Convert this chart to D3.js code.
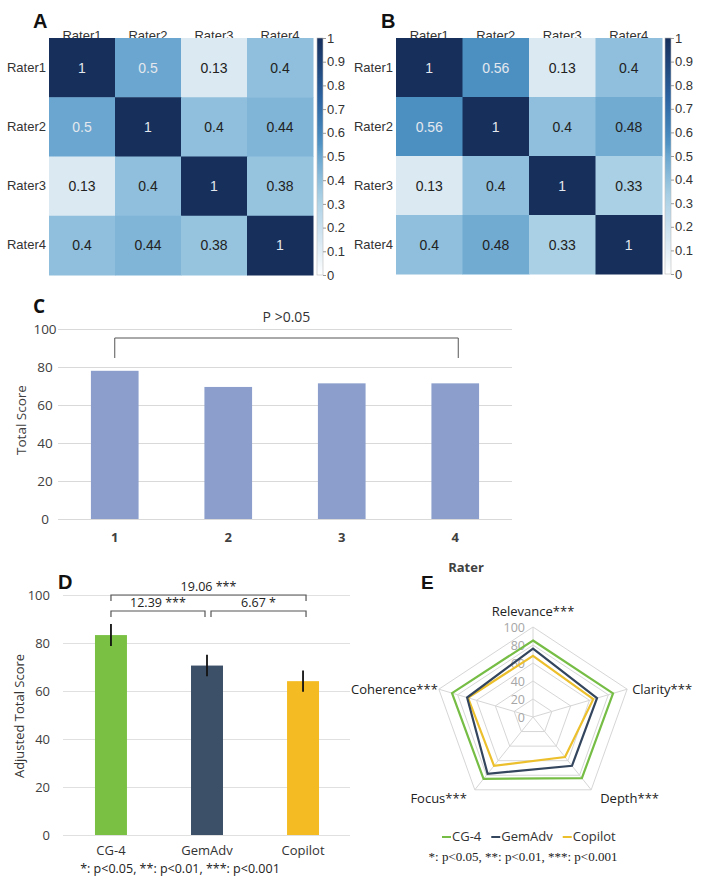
<!DOCTYPE html>
<html>
<head>
<meta charset="utf-8">
<script src="https://cdnjs.cloudflare.com/ajax/libs/d3/7.8.5/d3.min.js"></script>
<style>
  body { margin: 0; background: #fff; }
  svg { display: block; }
</style>
</head>
<body>
<div id="chart"></div>
<script>
// ---- data ----
const raters = ['Rater1', 'Rater2', 'Rater3', 'Rater4'];
const corrA = [
  [1, 0.5, 0.13, 0.4],
  [0.5, 1, 0.4, 0.44],
  [0.13, 0.4, 1, 0.38],
  [0.4, 0.44, 0.38, 1]
];
const corrB = [
  [1, 0.56, 0.13, 0.4],
  [0.56, 1, 0.4, 0.48],
  [0.13, 0.4, 1, 0.33],
  [0.4, 0.48, 0.33, 1]
];

const raterIds = ['1', '2', '3', '4'];
const totalScores = [78, 69.5, 71.4, 71.4];

const models = ['CG-4', 'GemAdv', 'Copilot'];
const adjScores = [83.3, 70.6, 64.1];
const adjErr = [4.6, 4.5, 4.4];
const comparisons = [
  { from: 0, to: 2, label: '19.06 ***', level: 1 },
  { from: 0, to: 1, label: '12.39 ***', level: 0 },
  { from: 1, to: 2, label: '6.67 *', level: 0 }
];

const dims = ['Relevance***', 'Clarity***', 'Depth***', 'Focus***', 'Coherence***'];
const radarCG4 = [85, 85, 84, 85, 86];
const radarGem = [76, 68, 67, 78, 70];
const radarCop = [68, 64, 55, 67, 69];
const radarTicks = [0, 20, 40, 60, 80, 100];

const modelColors = ['#7ac143', '#3c5068', '#f4bb22'];
const lineColors = ['#76bd45', '#34465e', '#ecbf2c'];

const W = 703, H = 882;
const svg = d3.select('#chart').append('svg')
  .attr('width', W)
  .attr('height', H);
svg.append('rect').attr('width', W).attr('height', H).attr('fill', '#fff');

const heatColor = d3.scaleLinear()
  .domain([0, 0.13, 0.33, 0.5, 0.56, 0.75, 1])
  .range(['#ffffff', '#dbe9f3', '#a9d0e5', '#6aa6cf', '#4c90c2', '#2b62a0', '#172f5b'])
  .clamp(true);

function panelLetter(x, y, t, family, size) {
  svg.append('text')
    .attr('x', x).attr('y', y)
    .attr('font-family', family)
    .attr('font-size', size)
    .attr('font-weight', 'bold')
    .attr('fill', '#111')
    .text(t);
}

// ---- heatmaps A and B ----
function drawHeatmap(data, x0, x1, y0, y1, cbX, id) {
  const g = svg.append('g');
  const x = d3.scaleBand().domain(raters).range([x0, x1]);
  const y = d3.scaleBand().domain(raters).range([y0, y1]);

  // column labels (partly hidden under the cells, as in the original)
  g.selectAll('.col').data(raters).enter().append('text')
    .attr('x', d => x(d) + x.bandwidth() / 2)
    .attr('y', y0 + 2)
    .attr('text-anchor', 'middle')
    .attr('font-family', 'Liberation Sans, Arial')
    .attr('font-size', 13)
    .attr('fill', '#333')
    .text(d => d);

  g.selectAll('.row').data(raters).enter().append('text')
    .attr('x', x0 - 3)
    .attr('y', d => y(d) + y.bandwidth() / 2 + 4)
    .attr('text-anchor', 'end')
    .attr('font-family', 'Liberation Sans, Arial')
    .attr('font-size', 13)
    .attr('fill', '#333')
    .text(d => d);

  const cells = [];
  data.forEach((row, i) => row.forEach((v, j) => cells.push({ r: raters[i], c: raters[j], v })));

  g.selectAll('.cell').data(cells).enter().append('rect')
    .attr('x', d => x(d.c))
    .attr('y', d => y(d.r))
    .attr('width', x.bandwidth() + 0.5)
    .attr('height', y.bandwidth() + 0.5)
    .attr('fill', d => heatColor(d.v));

  g.selectAll('.val').data(cells).enter().append('text')
    .attr('x', d => x(d.c) + x.bandwidth() / 2)
    .attr('y', d => y(d.r) + y.bandwidth() / 2 + 5)
    .attr('text-anchor', 'middle')
    .attr('font-family', 'Liberation Sans, Arial')
    .attr('font-size', 14)
    .attr('fill', d => d.v >= 0.5 ? '#e4e8ee' : '#222')
    .text(d => d.v);

  // colorbar
  const grad = svg.append('defs').append('linearGradient')
    .attr('id', 'grad' + id)
    .attr('x1', 0).attr('y1', 1).attr('x2', 0).attr('y2', 0);
  d3.range(0, 1.001, 0.05).forEach(t => {
    grad.append('stop').attr('offset', t).attr('stop-color', heatColor(t));
  });
  g.append('rect')
    .attr('x', cbX).attr('y', y0)
    .attr('width', 6).attr('height', y1 - y0)
    .attr('fill', `url(#grad${id})`)
    .attr('stroke', '#bbb')
    .attr('stroke-width', 0.6);

  const cs = d3.scaleLinear().domain([0, 1]).range([y1, y0]);
  const ax = g.append('g')
    .attr('transform', `translate(${cbX + 6},0)`)
    .call(d3.axisRight(cs).ticks(10).tickSize(3).tickFormat(d3.format('~g')));
  ax.select('.domain').remove();
  ax.selectAll('line').attr('stroke', '#999');
  ax.selectAll('text')
    .attr('font-family', 'Liberation Sans, Arial')
    .attr('font-size', 13)
    .attr('fill', '#333')
    .attr('x', 4);
}

drawHeatmap(corrA, 49, 313, 38, 275, 317, 'A');
drawHeatmap(corrB, 396, 662, 38, 274, 665, 'B');
panelLetter(33, 28, 'A', 'Liberation Sans, Arial', 20);
panelLetter(381, 28, 'B', 'Liberation Sans, Arial', 20);

// ---- panel C ----
const font2 = 'Open Sans, Noto Sans, sans-serif';
{
  const x = d3.scaleBand().domain(raterIds).range([58, 512]).paddingInner(0.58).paddingOuter(0.29);
  const y = d3.scaleLinear().domain([0, 100]).range([519, 329]);
  const g = svg.append('g');

  const grid = g.append('g')
    .attr('transform', 'translate(58,0)')
    .call(d3.axisLeft(y).ticks(5).tickSize(-454).tickFormat(''));
  grid.select('.domain').remove();
  grid.selectAll('line').attr('stroke', '#d9d9d9');

  g.selectAll('.ytick').data(y.ticks(5)).enter().append('text')
    .attr('x', 45).attr('y', d => y(d) + 5)
    .attr('text-anchor', 'middle')
    .attr('font-family', font2).attr('font-size', 13.5)
    .attr('fill', '#404040')
    .text(d => d);

  g.selectAll('.bar').data(totalScores).enter().append('rect')
    .attr('x', (d, i) => x(raterIds[i]))
    .attr('y', d => y(d))
    .attr('width', x.bandwidth())
    .attr('height', d => y(0) - y(d))
    .attr('fill', '#8c9fcc');

  g.selectAll('.xtick').data(raterIds).enter().append('text')
    .attr('x', d => x(d) + x.bandwidth() / 2)
    .attr('y', 542)
    .attr('text-anchor', 'middle')
    .attr('font-family', font2).attr('font-size', 13).attr('font-weight', 'bold')
    .attr('fill', '#404040')
    .text(d => d);

  g.append('text')
    .attr('x', 466).attr('y', 572)
    .attr('text-anchor', 'middle')
    .attr('font-family', font2).attr('font-size', 13).attr('font-weight', 'bold')
    .attr('fill', '#404040')
    .text('Rater');

  g.append('text')
    .attr('transform', 'translate(26,420) rotate(-90)')
    .attr('text-anchor', 'middle')
    .attr('font-family', font2).attr('font-size', 13.5)
    .attr('fill', '#404040')
    .text('Total Score');

  // bracket
  const bx1 = x(raterIds[0]) + x.bandwidth() / 2;
  const bx2 = x(raterIds[3]) + x.bandwidth() / 2 + 3;
  g.append('path')
    .attr('d', `M${bx1},358V338H${bx2}V358`)
    .attr('fill', 'none').attr('stroke', '#555').attr('stroke-width', 1);
  g.append('text')
    .attr('x', (bx1 + bx2) / 2).attr('y', 322)
    .attr('text-anchor', 'middle')
    .attr('font-family', font2).attr('font-size', 14)
    .attr('fill', '#333')
    .text('P >0.05');

  panelLetter(33, 313, 'C', font2, 19);
}

// ---- panel D ----
{
  const x = d3.scaleBand().domain(models).range([63, 351]).paddingInner(0.667).paddingOuter(0.333);
  const y = d3.scaleLinear().domain([0, 100]).range([835, 595]);
  const g = svg.append('g');

  const grid = g.append('g')
    .attr('transform', 'translate(63,0)')
    .call(d3.axisLeft(y).ticks(5).tickSize(-287).tickFormat(''));
  grid.select('.domain').remove();
  grid.selectAll('line').attr('stroke', '#e0e0e0');

  g.selectAll('.ytick').data(y.ticks(5)).enter().append('text')
    .attr('x', 50).attr('y', d => y(d) + 5)
    .attr('text-anchor', 'end')
    .attr('font-family', font2).attr('font-size', 13)
    .attr('fill', '#404040')
    .text(d => d);

  g.selectAll('.bar').data(adjScores).enter().append('rect')
    .attr('x', (d, i) => x(models[i]))
    .attr('y', d => y(d))
    .attr('width', x.bandwidth())
    .attr('height', d => y(0) - y(d))
    .attr('fill', (d, i) => modelColors[i]);

  g.selectAll('.err').data(adjScores).enter().append('line')
    .attr('x1', (d, i) => x(models[i]) + x.bandwidth() / 2)
    .attr('x2', (d, i) => x(models[i]) + x.bandwidth() / 2)
    .attr('y1', (d, i) => y(d + adjErr[i]))
    .attr('y2', (d, i) => y(d - adjErr[i]))
    .attr('stroke', '#111').attr('stroke-width', 1.8);

  g.selectAll('.xtick').data(models).enter().append('text')
    .attr('x', d => x(d) + x.bandwidth() / 2)
    .attr('y', 855)
    .attr('text-anchor', 'middle')
    .attr('font-family', font2).attr('font-size', 13)
    .attr('fill', '#333')
    .text(d => d);

  g.append('text')
    .attr('x', 180).attr('y', 873)
    .attr('text-anchor', 'middle')
    .attr('font-family', font2).attr('font-size', 12.5)
    .attr('fill', '#222')
    .text('*: p<0.05, **: p<0.01, ***: p<0.001');

  g.append('text')
    .attr('transform', 'translate(24,716) rotate(-90)')
    .attr('text-anchor', 'middle')
    .attr('font-family', font2).attr('font-size', 13)
    .attr('fill', '#333')
    .text('Adjusted Total Score');

  // significance brackets
  const cxOf = i => x(models[i]) + x.bandwidth() / 2;
  comparisons.forEach(c => {
    const top = c.level === 1 ? 595 : 611;
    let a = cxOf(c.from), b = cxOf(c.to);
    if (c.level === 0 && c.from === 0) b -= 2;
    if (c.level === 0 && c.from === 1) a += 4;
    if (c.to === 2) b += 3;
    g.append('path')
      .attr('d', `M${a},${top + 6}V${top}H${b}V${top + 6}`)
      .attr('fill', 'none').attr('stroke', '#555').attr('stroke-width', 1.2);
    g.append('text')
      .attr('x', (a + b) / 2).attr('y', top - 4)
      .attr('text-anchor', 'middle')
      .attr('font-family', font2).attr('font-size', 12.5)
      .attr('fill', '#222')
      .text(c.label);
  });

  panelLetter(58, 589, 'D', 'Liberation Sans, Arial', 20);
}

// ---- panel E radar ----
{
  const cx = 533, cy = 717, rx = 99, ry = 90;
  const r = d3.scaleLinear().domain([0, 100]).range([0, 1]);
  const ang = i => i * 2 * Math.PI / dims.length;
  const pt = (v, i) => [cx + rx * r(v) * Math.sin(ang(i)), cy - ry * r(v) * Math.cos(ang(i))];
  const line = d3.line().curve(d3.curveLinearClosed);
  const g = svg.append('g');

  radarTicks.filter(t => t > 0).forEach(t => {
    g.append('path')
      .attr('d', line(dims.map((d, i) => pt(t, i))))
      .attr('fill', 'none').attr('stroke', '#d6d6d6').attr('stroke-width', 1);
  });
  dims.forEach((d, i) => {
    const p = pt(100, i);
    g.append('line')
      .attr('x1', cx).attr('y1', cy).attr('x2', p[0]).attr('y2', p[1])
      .attr('stroke', '#d6d6d6').attr('stroke-width', 1);
  });

  g.selectAll('.rt').data(radarTicks).enter().append('text')
    .attr('x', cx - 8)
    .attr('y', d => cy - ry * r(d) + 5)
    .attr('text-anchor', 'end')
    .attr('font-family', font2).attr('font-size', 12.5)
    .attr('fill', '#a6a6a6')
    .text(d => d);

  [radarCop, radarGem, radarCG4].forEach((s, k) => {
    g.append('path')
      .attr('d', line(s.map((v, i) => pt(v, i))))
      .attr('fill', 'none')
      .attr('stroke', lineColors[2 - k])
      .attr('stroke-width', 2.2);
  });

  const labelPos = [
    { dx: 0, dy: -11, anchor: 'middle' },
    { dx: 5, dy: 5, anchor: 'start' },
    { dx: 9, dy: 13, anchor: 'start' },
    { dx: -8, dy: 13, anchor: 'end' },
    { dx: -1, dy: 5, anchor: 'end' }
  ];
  dims.forEach((d, i) => {
    const p = pt(100, i);
    g.append('text')
      .attr('x', p[0] + labelPos[i].dx)
      .attr('y', p[1] + labelPos[i].dy)
      .attr('text-anchor', labelPos[i].anchor)
      .attr('font-family', font2).attr('font-size', 13)
      .attr('fill', '#222')
      .text(d);
  });

  // legend
  const leg = g.append('g').attr('transform', 'translate(442,841)');
  let lx = 0;
  models.forEach((m, i) => {
    leg.append('line')
      .attr('x1', lx).attr('x2', lx + 9).attr('y1', -4).attr('y2', -4)
      .attr('stroke', lineColors[i]).attr('stroke-width', 2);
    const t = leg.append('text')
      .attr('x', lx + 10).attr('y', 0)
      .attr('font-family', font2).attr('font-size', 13)
      .attr('fill', '#333')
      .text(m);
    lx += 10 + t.node().getComputedTextLength() + 10;
  });

  g.append('text')
    .attr('x', 523).attr('y', 861)
    .attr('text-anchor', 'middle')
    .attr('font-family', 'Liberation Serif, Times New Roman, serif').attr('font-size', 13)
    .attr('fill', '#222')
    .text('*: p<0.05, **: p<0.01, ***: p<0.001');

  panelLetter(421, 589, 'E', 'Liberation Sans, Arial', 19);
}
</script>
</body>
</html>
